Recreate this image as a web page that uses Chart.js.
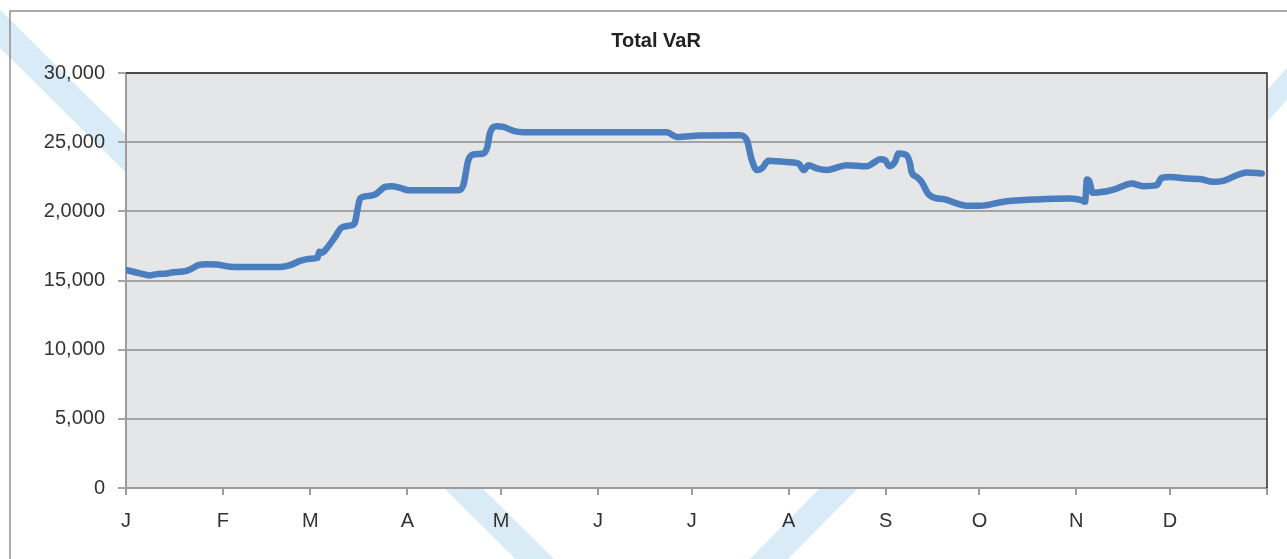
<!DOCTYPE html>
<html>
<head>
<meta charset="utf-8">
<title>Total VaR</title>
<script src="https://cdn.jsdelivr.net/npm/chart.js@4.4.1/dist/chart.umd.min.js"></script>
<style>
  html, body { margin: 0; padding: 0; background: #fff; }
  #wrap { width: 1287px; height: 559px; }
</style>
</head>
<body>
<div id="wrap"><canvas id="varChart" width="1287" height="559"></canvas></div>
<script>
// day of year for each reading
const dayX = [
  0.2, 4.5, 7.7, 9.8, 13.0, 15.1, 18.3, 20.5, 23.1, 25.8, 29.0, 33.3, 36.5, 49.3, 52.5, 55.7, 58.9,
  61.3, 61.8, 62.6, 64.2, 66.9, 69.0, 72.2, 73.3, 74.0, 74.9, 77.0, 79.7, 82.9, 85.0, 87.7, 90.3,
  94.1, 106.3, 107.9, 109.5, 111.1, 114.3, 115.6, 116.4, 118.6, 120.7, 123.9, 127.1, 173.0, 176.2,
  183.6, 196.4, 198.6, 200.2, 201.8, 203.4, 205.5, 210.3, 215.1, 216.9, 218.3, 221.0, 224.2, 227.4,
  230.6, 236.9, 239.1, 241.2, 242.8, 244.2, 246.0, 247.1, 249.7, 250.8, 251.3, 252.9, 254.5, 256.7,
  258.8, 262.0, 265.7, 268.9, 273.2, 280.7, 291.3, 302.0, 305.7, 306.8, 307.4, 308.2, 309.2, 312.6,
  316.9, 321.7, 325.4, 329.7, 331.3, 334.0, 339.3, 343.6, 347.8, 351.0, 355.3, 358.5, 363.3
];
const varValues = [
  15750, 15510, 15370, 15460, 15510, 15600, 15650, 15800, 16110, 16180, 16160, 15990, 15970, 15970, 16110, 16420, 16570,
  16640, 17080, 17000, 17320, 18160, 18830, 19000, 19240, 20090, 20930, 21100, 21220, 21770, 21820, 21700, 21530,
  21530, 21530, 21890, 23700, 24110, 24180, 24660, 25630, 26150, 26100, 25820, 25720, 25720, 25380,
  25480, 25500, 25140, 23700, 22980, 23100, 23650, 23580, 23460, 22980, 23340, 23100, 22980, 23170,
  23340, 23260, 23500, 23770, 23700, 23260, 23580, 24180, 24060, 23460, 22850, 22490, 22130, 21240,
  20970, 20860, 20570, 20400, 20400, 20690, 20860, 20930, 20810, 20690, 22300, 22150, 21340, 21410,
  21650, 22010, 21820, 21890, 22420, 22490, 22370, 22330, 22130, 22200, 22610, 22810, 22740
];

const monthStarts = [0, 31, 59, 90, 120, 151, 181, 212, 243, 273, 304, 334, 365];
const monthLabels = ["J", "F", "M", "A", "M", "J", "J", "A", "S", "O", "N", "D"];
const yTickLabels = ["0", "5,000", "10,000", "15,000", "2,0000", "25,000", "30,000"];

const FONT = "'Liberation Sans', Arial, Helvetica, sans-serif";

// white page, faint watermark bands, frame and grey plot panel
const backdrop = {
  id: "backdrop",
  beforeDraw(chart) {
    const { ctx, width, height, chartArea: a } = chart;
    ctx.save();
    ctx.fillStyle = "#fff";
    ctx.fillRect(0, 0, width, height);

    ctx.strokeStyle = "#d8ebf6";
    ctx.lineCap = "butt";
    ctx.lineWidth = 27;
    ctx.beginPath();
    ctx.moveTo(-29, 0);
    ctx.lineTo(566, 590);
    ctx.moveTo(870, 457);
    ctx.lineTo(738, 590);
    ctx.stroke();
    ctx.lineWidth = 21;
    ctx.beginPath();
    ctx.moveTo(1240, 137);
    ctx.lineTo(1300, 69);
    ctx.stroke();

    ctx.strokeStyle = "#8e8e8e";
    ctx.lineWidth = 1.5;
    ctx.beginPath();
    ctx.moveTo(10, height);
    ctx.lineTo(10, 11);
    ctx.lineTo(width, 11);
    ctx.stroke();

    ctx.fillStyle = "#e5e6e8";
    ctx.fillRect(a.left, a.top, a.right - a.left, a.bottom - a.top);
    ctx.restore();
  },
  beforeDatasetsDraw(chart) {
    const { ctx, chartArea: a } = chart;
    ctx.save();
    ctx.strokeStyle = "#2e2e2e";
    ctx.lineWidth = 1.5;
    ctx.beginPath();
    ctx.moveTo(a.left, a.top);
    ctx.lineTo(a.right, a.top);
    ctx.lineTo(a.right, a.bottom);
    ctx.stroke();
    ctx.restore();
  },
  afterDraw(chart) {
    const ctx = chart.ctx;
    ctx.save();
    ctx.fillStyle = "#222";
    ctx.font = "bold 20px " + FONT;
    ctx.textAlign = "center";
    ctx.textBaseline = "middle";
    ctx.fillText("Total VaR", 656, 41);
    ctx.restore();
  }
};

const ctx = document.getElementById("varChart").getContext("2d");
new Chart(ctx, {
  type: "line",
  data: {
    datasets: [{
      label: "Total VaR",
      data: dayX.map((d, i) => ({ x: d, y: varValues[i] })),
      borderColor: "#4a7ebf",
      borderWidth: 6.5,
      borderCapStyle: "round",
      borderJoinStyle: "round",
      cubicInterpolationMode: "monotone",
      pointRadius: 0,
      fill: false
    }]
  },
  options: {
    responsive: false,
    animation: false,
    layout: { padding: { top: 73, left: 10, right: 20, bottom: 0 } },
    plugins: {
      legend: { display: false },
      title: { display: false },
      tooltip: { enabled: false }
    },
    scales: {
      x: {
        type: "linear",
        min: 0,
        max: 365,
        afterBuildTicks: s => { s.ticks = monthStarts.map(v => ({ value: v })); },
        afterFit: s => { s.height = 71; },
        ticks: {
          autoSkip: false,
          maxRotation: 0,
          padding: 14,
          color: "#333",
          font: { family: FONT, size: 20 },
          callback: v => monthLabels[monthStarts.indexOf(v)] ?? ""
        },
        grid: { drawOnChartArea: false, drawTicks: true, tickLength: 7, color: "#9c9c9c", lineWidth: 2 },
        border: { color: "#9c9c9c", width: 2 }
      },
      y: {
        min: 0,
        max: 30000,
        afterFit: s => { s.width = 116; },
        ticks: {
          stepSize: 5000,
          padding: 13,
          color: "#333",
          font: { family: FONT, size: 20 },
          callback: v => yTickLabels[Math.round(v / 5000)]
        },
        grid: { color: "#a4a4a4", lineWidth: 2, drawTicks: true, tickLength: 8 },
        border: { color: "#9c9c9c", width: 2 }
      }
    }
  },
  plugins: [backdrop]
});
</script>
</body>
</html>
